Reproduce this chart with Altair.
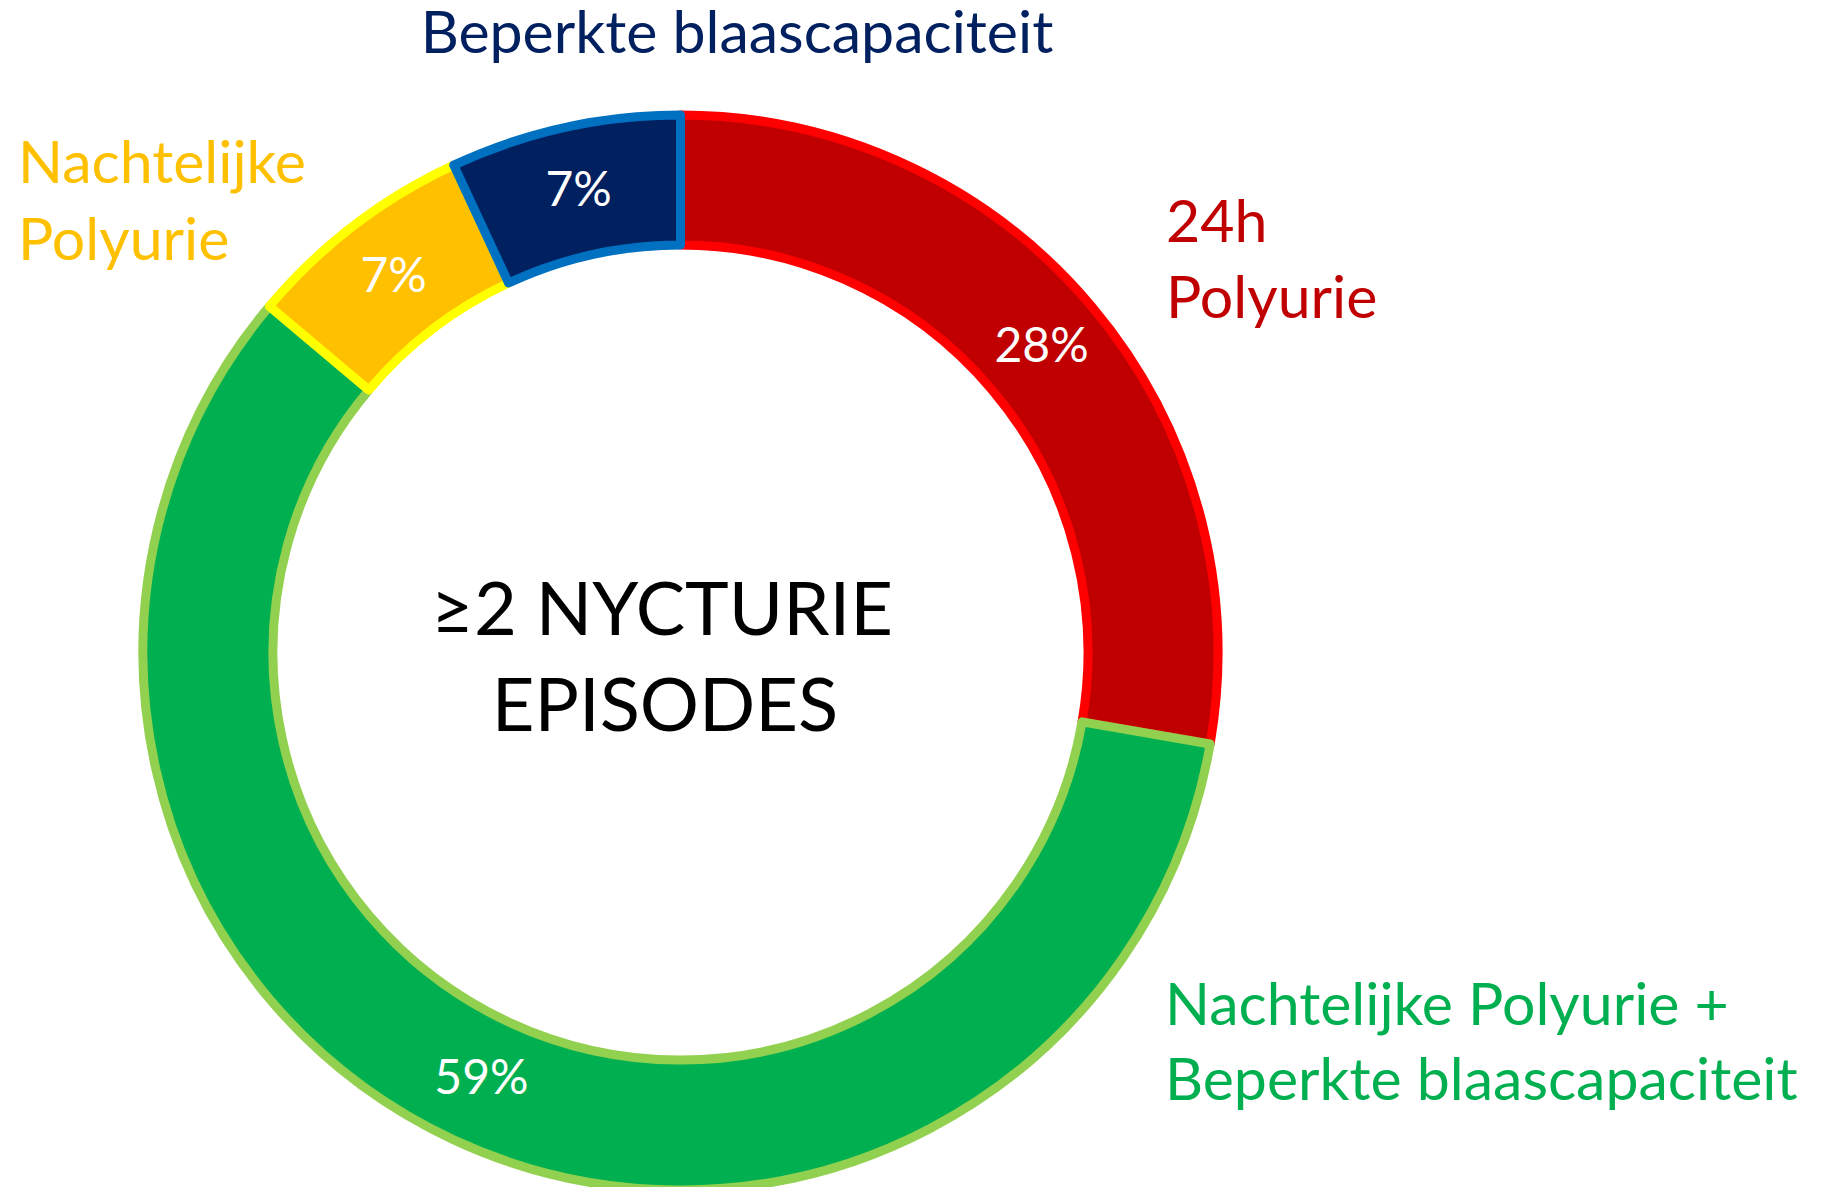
import altair as alt
import pandas as pd

# ---- data ----
categories = [
    "24h Polyurie",
    "Nachtelijke Polyurie + Beperkte blaascapaciteit",
    "Nachtelijke Polyurie",
    "Beperkte blaascapaciteit",
]
values = [28, 59, 7, 7]
pct_labels = ["28%", "59%", "7%", "7%"]
fill_colors = ["#C00000", "#00B050", "#FFC000", "#002060"]
stroke_colors = ["#FF0000", "#92D050", "#FFFF00", "#0070C0"]
center_lines = ["\u22652 NYCTURIE", "EPISODES"]

label_red = ["24h", "Polyurie"]
label_green = ["Nachtelijke Polyurie +", "Beperkte blaascapaciteit"]
label_yellow = ["Nachtelijke", "Polyurie"]
label_navy = ["Beperkte blaascapaciteit"]

FONT = "Lato"

df = pd.DataFrame({
    "cat": categories,
    "value": values,
    "label": pct_labels,
    "order": list(range(len(categories))),
})

base = alt.Chart(df).encode(
    theta=alt.Theta("value:Q", stack=True),
    order=alt.Order("order:Q"),
)

arcs = base.mark_arc(
    outerRadius=537.5, innerRadius=407.5, strokeWidth=9, strokeJoin="round"
).encode(
    color=alt.Color("cat:N", scale=alt.Scale(domain=categories, range=fill_colors), legend=None),
    stroke=alt.Stroke("cat:N", scale=alt.Scale(domain=categories, range=stroke_colors), legend=None),
)

pcts = base.mark_text(
    radius=472, font=FONT, fontSize=48, color="white", align="center", baseline="middle"
).encode(text="label:N")


def text_line(txt, x, y, color, size, align="left"):
    return alt.Chart(pd.DataFrame({"t": [txt]})).mark_text(
        font=FONT, fontSize=size, color=color, align=align, baseline="alphabetic"
    ).encode(text="t:N", x=alt.value(x), y=alt.value(y))


LBL = 59
layers = [arcs, pcts]
# center text
layers.append(text_line(center_lines[0], 654, 517, "#000000", 74, "center"))
layers.append(text_line(center_lines[1], 657, 613, "#000000", 74, "center"))
# category labels
layers.append(text_line(label_navy[0], 729, -65, "#002060", LBL, "center"))
layers.append(text_line(label_yellow[0], 10, 65, "#FFC000", LBL))
layers.append(text_line(label_yellow[1], 10, 142, "#FFC000", LBL))
layers.append(text_line(label_red[0], 1158, 124, "#C00000", LBL))
layers.append(text_line(label_red[1], 1158, 200, "#C00000", LBL))
layers.append(text_line(label_green[0], 1157, 907, "#00B050", LBL))
layers.append(text_line(label_green[1], 1157, 982, "#00B050", LBL))

chart = alt.layer(*layers).properties(
    width=1345,
    height=1069,
    padding={"left": 0, "top": 110, "right": 470, "bottom": 0},
    autosize=alt.AutoSizeParams(type="none"),
).configure_view(stroke=None)

chart.save("out.html", embed_options={"renderer": "svg", "actions": False})
